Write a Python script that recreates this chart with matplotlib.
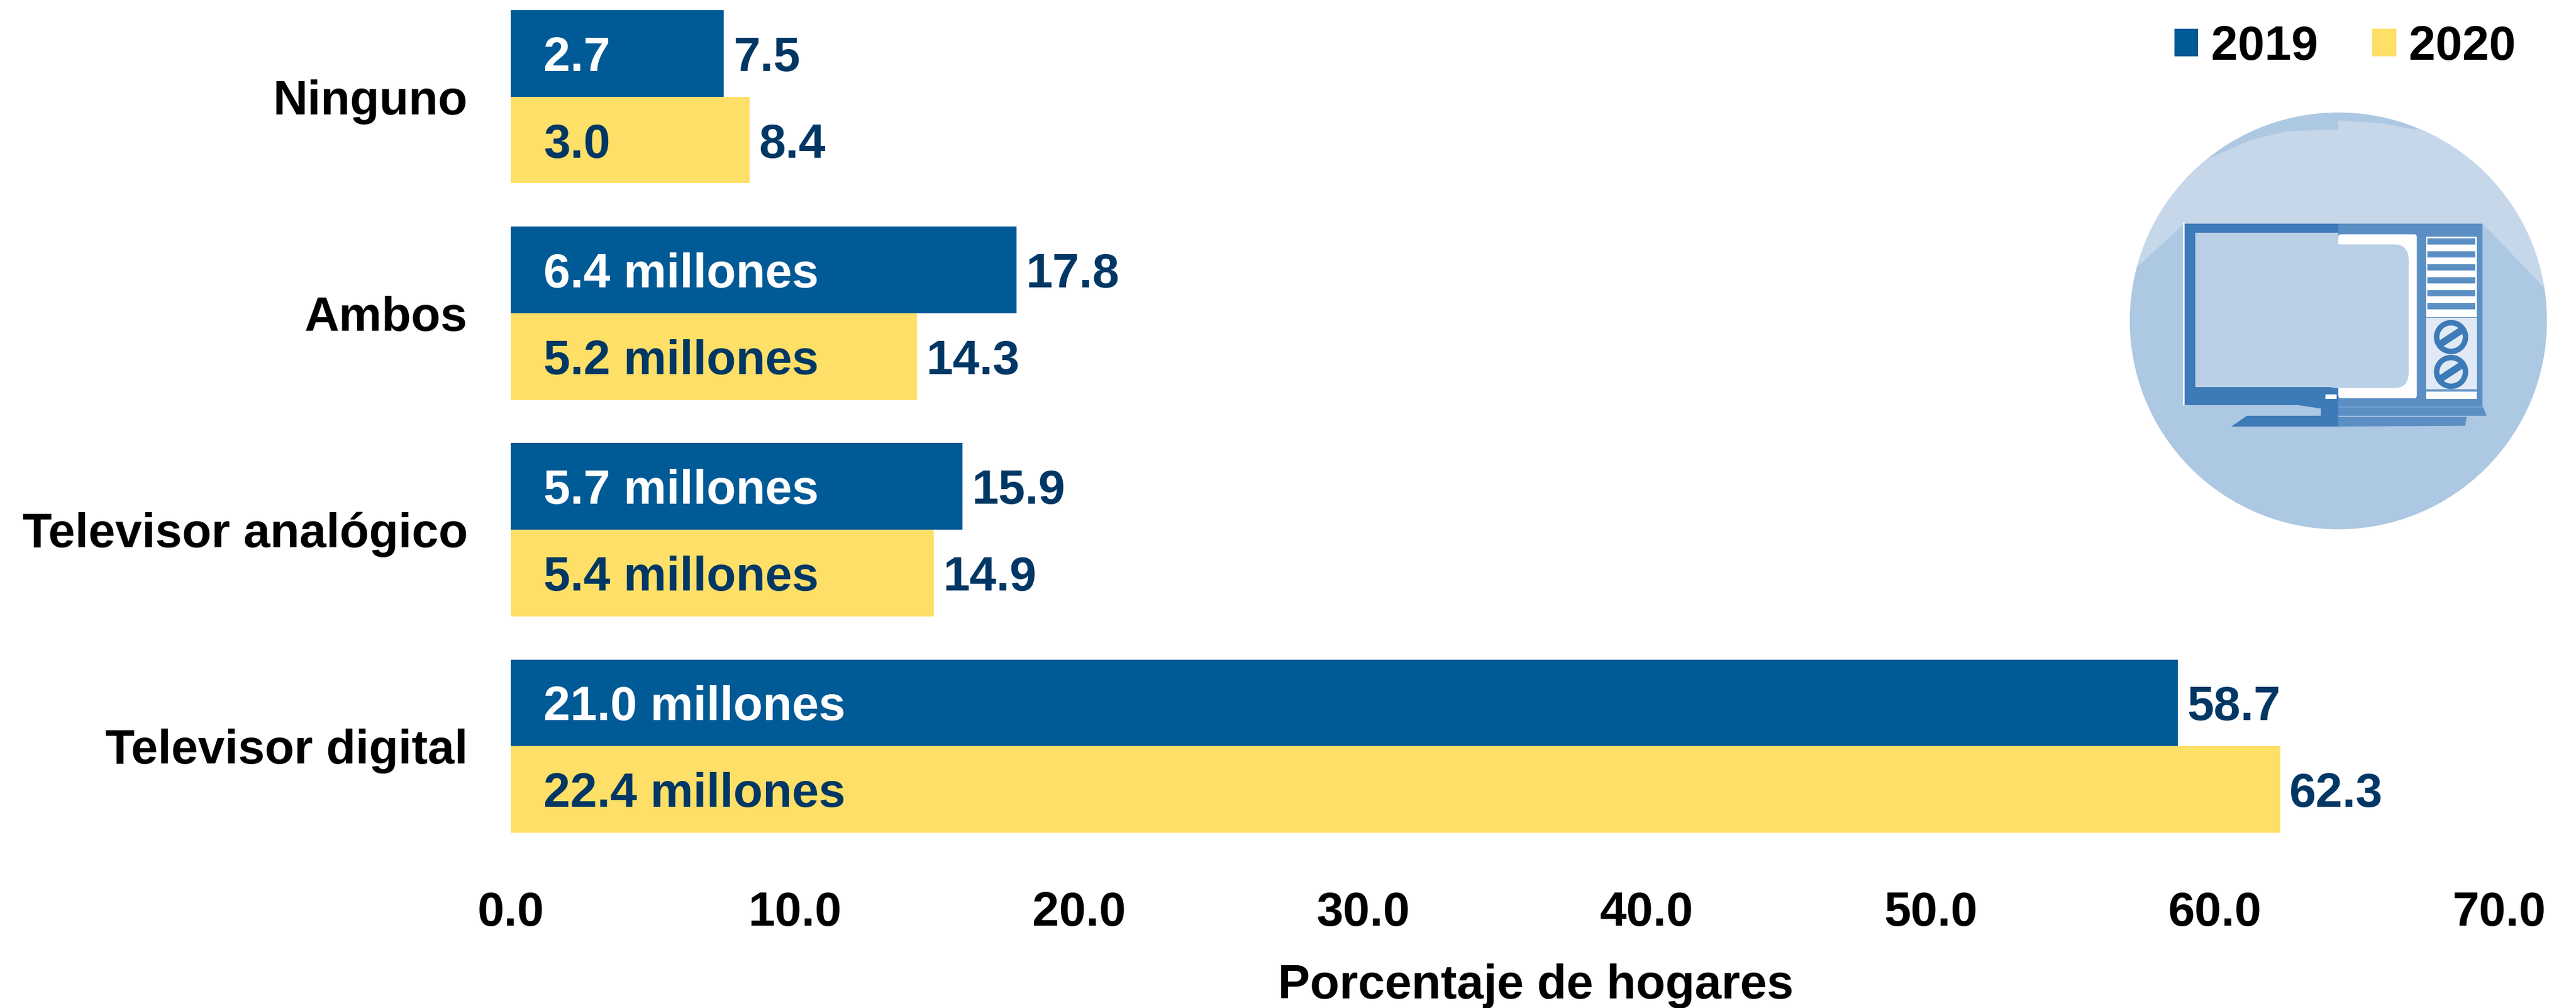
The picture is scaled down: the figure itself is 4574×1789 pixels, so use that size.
import matplotlib
matplotlib.use('Agg')
import matplotlib.pyplot as plt
from matplotlib.patches import Ellipse, Polygon, Rectangle, FancyBboxPatch

categories = ['Televisor digital', 'Televisor analógico', 'Ambos', 'Ninguno']
values_2019 = [58.7, 15.9, 17.8, 7.5]
values_2020 = [62.3, 14.9, 14.3, 8.4]
inner_2019 = ['21.0 millones', '5.7 millones', '6.4 millones', '2.7']
inner_2020 = ['22.4 millones', '5.4 millones', '5.2 millones', '3.0']
xticks = [0, 10, 20, 30, 40, 50, 60, 70]

BLUE = '#005A96'
YELLOW = '#FEDF67'
NAVY = '#003764'
W, H = 4574, 1789
FS = 61.5


def draw_tv(fig):
    # icon is decoration, coordinates follow the zoomed crop of the corner
    ax = fig.add_axes([3700 / W, 1 - 1000 / H, 874 / W, 1000 / H])
    ax.set_xlim(0, 1568)
    ax.set_ylim(1568, 0)
    ax.axis('off')

    dark = '#3D7AB8'
    mid = '#5B8FC4'
    ax.add_patch(Ellipse((811, 893), 1329, 1160, fc='#ADC8E2', ec='none'))
    clip = Ellipse((811, 893), 1329, 1160, fc='none', ec='none')
    ax.add_patch(clip)
    light = Polygon([(100, 800), (320, 622), (1270, 622), (1500, 830), (1500, 300),
                     (1050, 360), (950, 343), (811, 335), (811, 360), (650, 365),
                     (530, 390), (400, 440), (100, 600)], fc='#C6D7EA', ec='none')
    ax.add_patch(light)
    light.set_clip_path(clip)

    # flat screen half
    ax.add_patch(Rectangle((316, 620), 6, 508, fc='white', ec='none'))
    ax.add_patch(Rectangle((322, 622), 489, 505, fc=dark, ec='none'))
    ax.add_patch(Rectangle((355, 647), 456, 430, fc='#BAD0E6', ec='none'))
    ax.add_patch(Polygon([(680, 1127), (755, 1137), (755, 1157), (520, 1157), (470, 1187),
                          (811, 1187), (811, 1127)], fc=dark, ec='none'))
    ax.add_patch(Rectangle((770, 1098), 36, 12, fc='white', ec='none'))

    # old set half
    ax.add_patch(Rectangle((811, 622), 459, 510, fc=mid, ec='none'))
    ax.add_patch(FancyBboxPatch((811, 652), 250, 456, boxstyle='round,pad=0,rounding_size=8',
                                mutation_aspect=1, fc='white', ec='none'))
    ax.add_patch(FancyBboxPatch((760, 680), 275, 400, boxstyle='round,pad=0,rounding_size=45',
                                fc='#BAD0E6', ec='none'))
    ax.add_patch(Rectangle((760, 647), 51, 430, fc='#BAD0E6', ec='none'))
    ax.add_patch(Polygon([(811, 1133), (1272, 1133), (1283, 1157), (811, 1157)], fc=mid, ec='none'))
    ax.add_patch(Polygon([(811, 1160), (1220, 1160), (1215, 1185), (811, 1187)], fc=mid, ec='none'))
    ax.add_patch(Rectangle((1090, 658), 162, 225, fc='white', ec='none'))
    for top in range(664, 880, 36):
        ax.add_patch(Rectangle((1095, top), 152, 17, fc=mid, ec='none'))
    ax.add_patch(Rectangle((1090, 885), 162, 198, fc='#E1EAF4', ec='none'))
    ax.add_patch(Rectangle((1090, 1090), 162, 20, fc='white', ec='none'))
    for cy in [938, 1035]:
        ax.add_patch(Ellipse((1170, cy), 92, 80, fc='#E1EAF4', ec=dark, lw=7))
        ax.plot([1135, 1205], [cy + 20, cy - 20], color=dark, lw=9, solid_capstyle='butt')


plt.rcParams['font.family'] = ['Liberation Sans', 'DejaVu Sans']
plt.rcParams['font.weight'] = 'bold'
plt.rcParams['axes.labelweight'] = 'bold'
plt.rcParams['font.size'] = FS

fig = plt.figure(figsize=(W / 100, H / 100), dpi=100)
ax = fig.add_axes([907 / W, 1 - 1478 / H, (4437 - 907) / W, (1478 - 18) / H])

y = list(range(len(categories)))
bar_h = 0.4
y_2019 = [i + bar_h / 2 for i in y]
y_2020 = [i - bar_h / 2 for i in y]
ax.barh(y_2019, values_2019, height=bar_h, color=BLUE, label='2019')
ax.barh(y_2020, values_2020, height=bar_h, color=YELLOW, label='2020')

for ys, vals, inner, col in [(y_2019, values_2019, inner_2019, 'white'),
                             (y_2020, values_2020, inner_2020, NAVY)]:
    for yy, v, txt in zip(ys, vals, inner):
        ax.annotate(txt, (0, yy), xytext=(42, 0), textcoords='offset points',
                    va='center_baseline', ha='left', color=col, fontweight='bold')
        ax.annotate(f'{v:.1f}', (v, yy), xytext=(12, 0), textcoords='offset points',
                    va='center_baseline', ha='left', color=NAVY, fontweight='bold')

ax.set_xlim(0, 70)
ax.set_ylim(-0.4, 3.4)
ax.set_yticks(y)
ax.set_yticklabels(categories)
ax.set_xticks(xticks)
ax.set_xticklabels([f'{t:.1f}' for t in xticks])
ax.tick_params(axis='both', length=0)
ax.tick_params(axis='y', pad=55)
ax.tick_params(axis='x', pad=74)
for side in ax.spines:
    ax.spines[side].set_visible(False)

ax.set_xlabel('Porcentaje de hogares')
ax.xaxis.set_label_coords((2727 - 907) / (4437 - 907), -(1750 - 1478) / (1478 - 18), transform=ax.transAxes)
ax.xaxis.label.set_va('center')

ax.legend(loc='center right', bbox_to_anchor=(4467 / W, 1 - 84 / H), bbox_transform=fig.transFigure,
          ncol=2, frameon=False, borderpad=0, borderaxespad=0, handlelength=0.5, handleheight=0.5,
          handletextpad=0.26, columnspacing=1.13)

draw_tv(fig)

fig.savefig('out.png', dpi=100)
